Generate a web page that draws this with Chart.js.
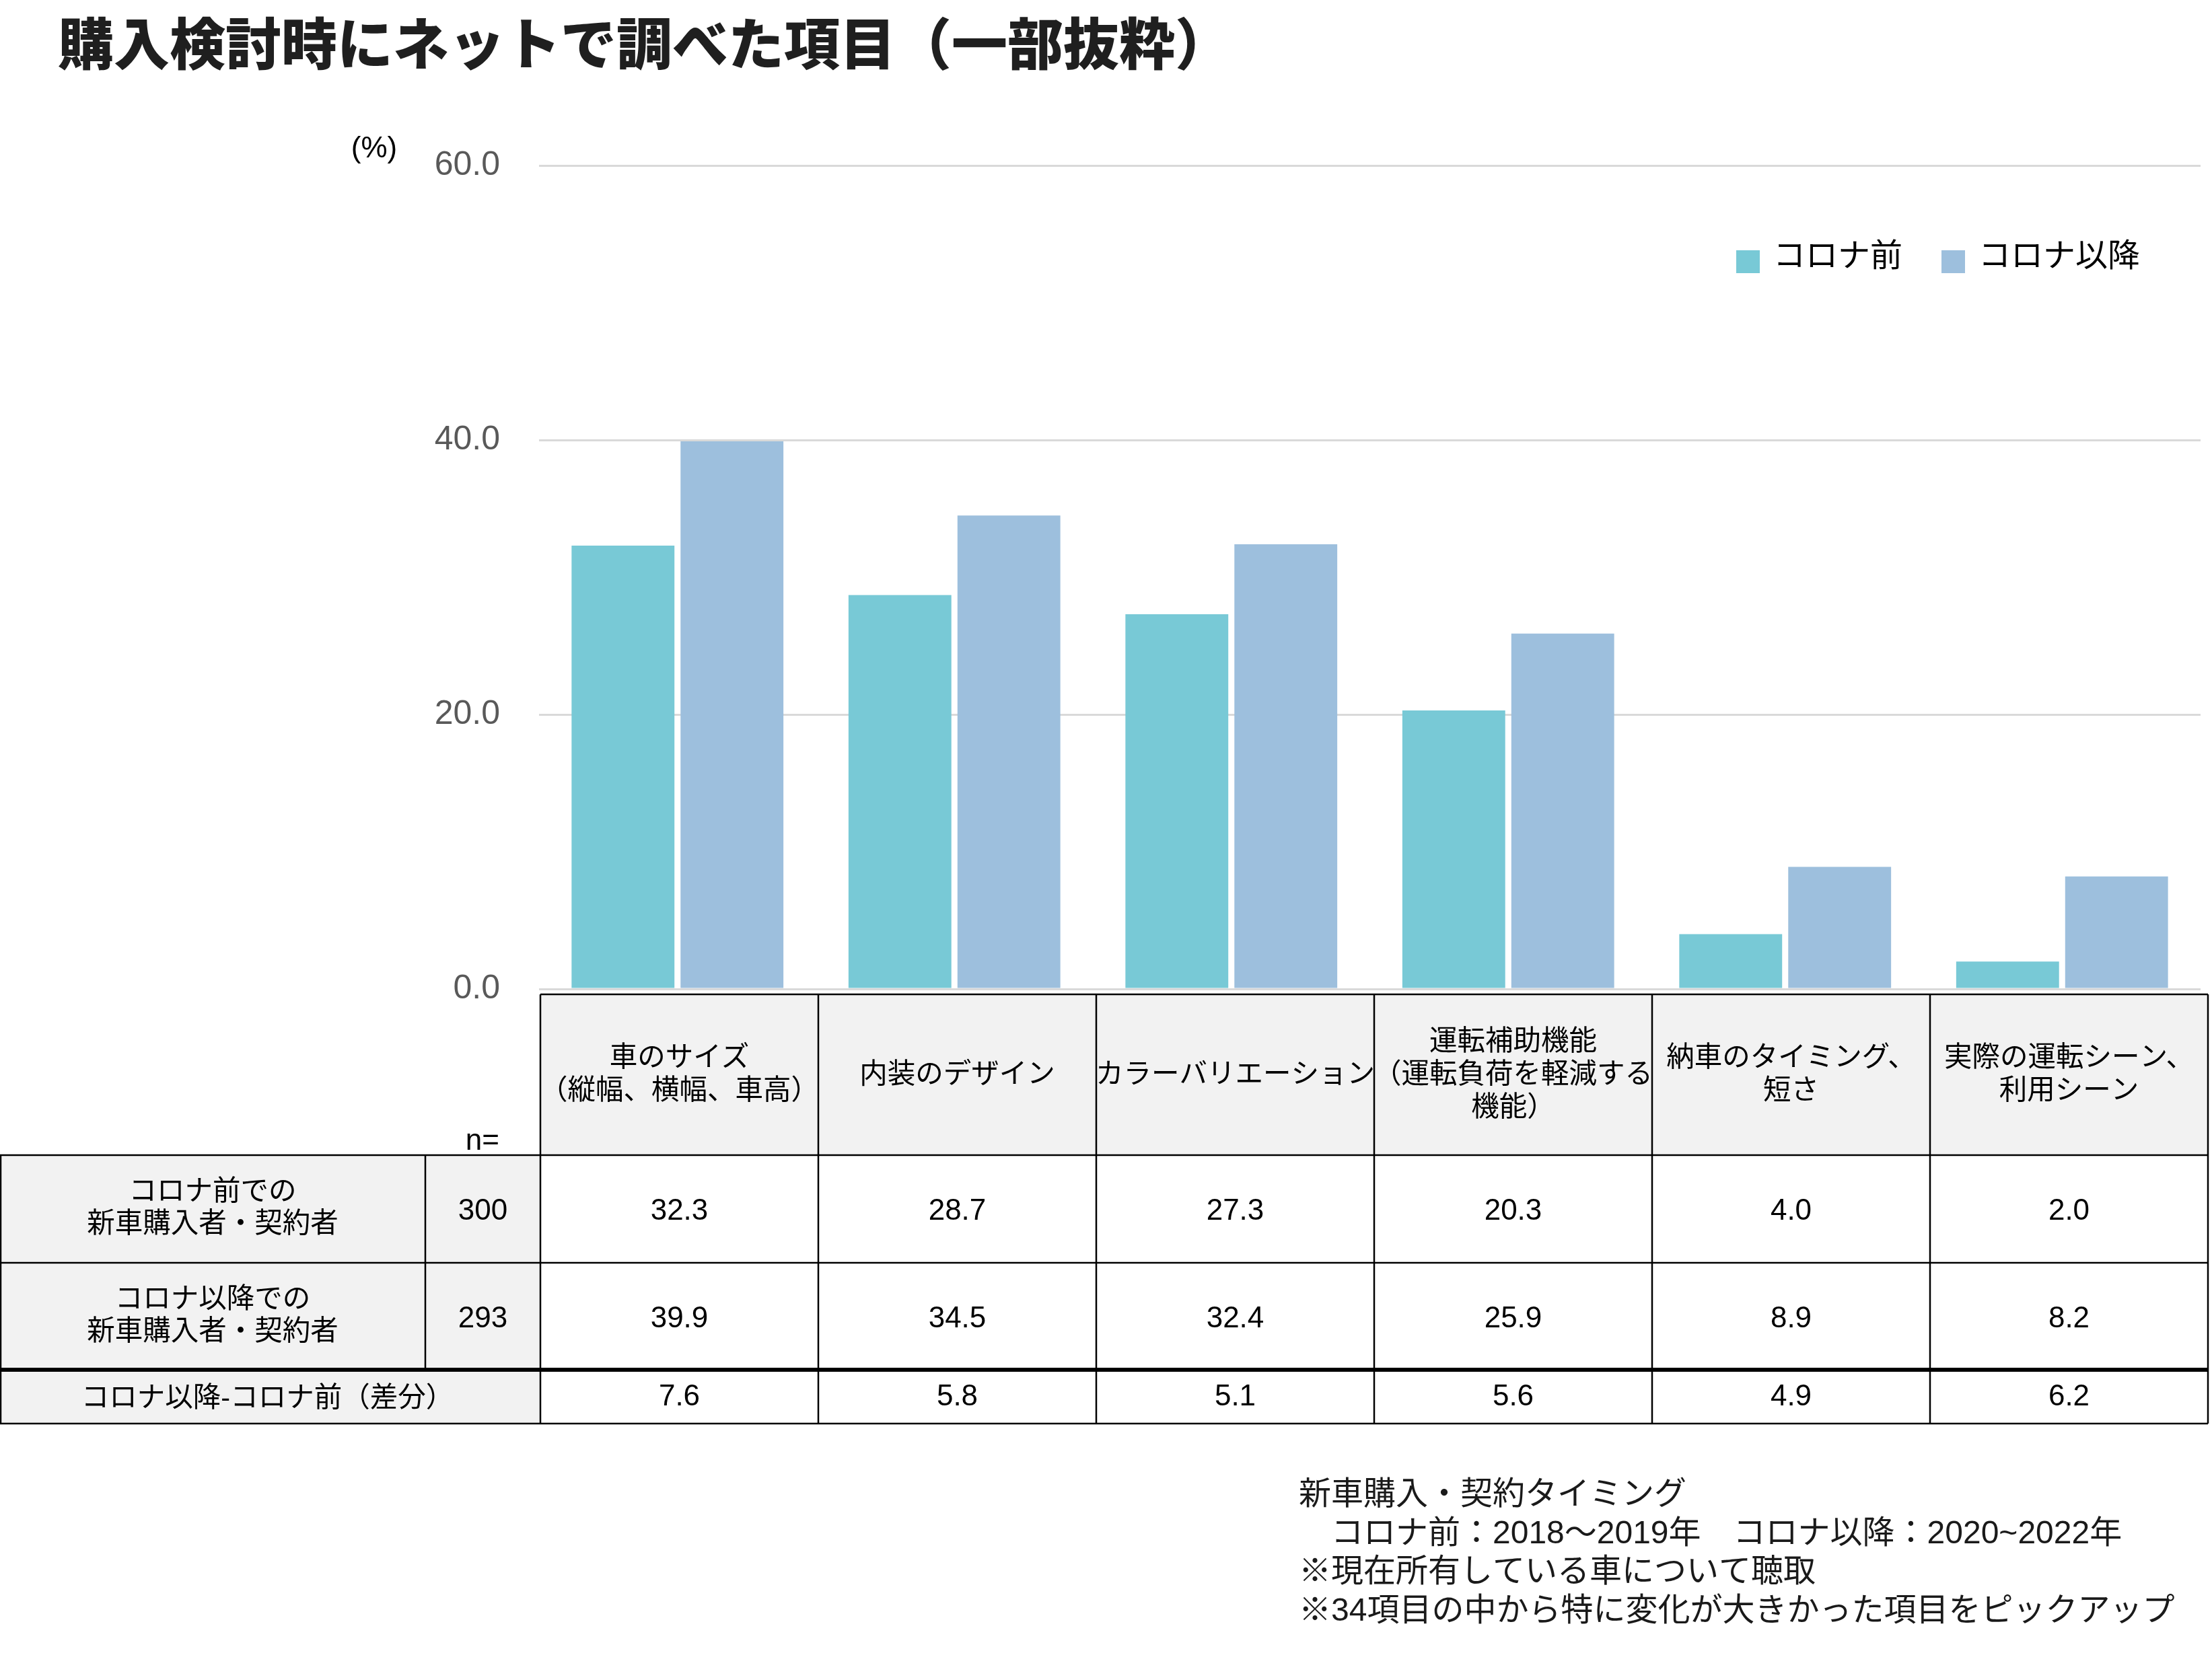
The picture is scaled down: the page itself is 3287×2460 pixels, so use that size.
<!DOCTYPE html>
<html>
<head>
<meta charset="utf-8">
<script src="https://cdn.jsdelivr.net/npm/chart.js@4.4.1/dist/chart.umd.min.js"></script>
<style>
html, body { margin: 0; background: #fff; }
canvas { display: block; }
</style>
</head>
<body>
<canvas id="myChart" width="3287" height="2460"></canvas>
<script>
// data
const categories = [
  ["車のサイズ", "（縦幅、横幅、車高）"],
  ["内装のデザイン"],
  ["カラーバリエーション"],
  ["運転補助機能", "（運転負荷を軽減する", "機能）"],
  ["納車のタイミング、", "短さ"],
  ["実際の運転シーン、", "利用シーン"]
];
const seriesNames = ["コロナ前", "コロナ以降"];
const preCovid = [32.3, 28.7, 27.3, 20.3, 4.0, 2.0];
const postCovid = [39.9, 34.5, 32.4, 25.9, 8.9, 8.2];
const diffValues = [7.6, 5.8, 5.1, 5.6, 4.9, 6.2];
const sampleSizes = [300, 293];
const rowLabels = [
  ["コロナ前での", "新車購入者・契約者"],
  ["コロナ以降での", "新車購入者・契約者"]
];
const diffLabel = "コロナ以降-コロナ前（差分）";
const yTicks = [0, 20, 40, 60];
const titleText = "購入検討時にネットで調べた項目（一部抜粋）";
const notes = [
  "新車購入・契約タイミング",
  "　コロナ前：2018～2019年　コロナ以降：2020~2022年",
  "※現在所有している車について聴取",
  "※34項目の中から特に変化が大きかった項目をピックアップ"
];

const colors = ["#78C9D6", "#9DBFDD"];
const FONT = '"Liberation Sans", "Noto Sans CJK JP", sans-serif';

function txt(ctx, s, x, y, font, color, align) {
  ctx.font = font;
  ctx.fillStyle = color;
  ctx.textAlign = align || "center";
  ctx.textBaseline = "middle";
  ctx.fillText(s, x, y);
}
function hline(ctx, x1, x2, y, w) {
  ctx.fillStyle = "#000";
  ctx.fillRect(x1, y - w / 2, x2 - x1, w);
}
function vline(ctx, x, y1, y2, w) {
  ctx.fillStyle = "#000";
  ctx.fillRect(x - w / 2, y1, w, y2 - y1);
}

// title, legend, table and notes
const extras = {
  id: "extras",
  beforeDraw(chart) {
    const ctx = chart.ctx;
    ctx.save();
    ctx.fillStyle = "#fff";
    ctx.fillRect(0, 0, chart.width, chart.height);
    ctx.restore();
  },
  afterDraw(chart) {
    const ctx = chart.ctx;
    const xs = chart.scales.x;
    const n = categories.length;
    // table columns sit just under the plot, a touch wider than the categories
    const tableLeft = xs.left + 2;
    const colW = (3281 - tableLeft) / n;
    const colL = [];
    for (let i = 0; i <= n; i++) colL.push(tableLeft + i * colW);
    ctx.save();

    // title
    txt(ctx, titleText, 86, 64, '900 83px "Noto Sans CJK JP"', "#1f1f1f", "left");
    // unit
    txt(ctx, "(%)", 556, 222, '44px ' + FONT, "#000");

    // legend
    const lx = [2580, 2885];
    chart.data.datasets.forEach(function (ds, i) {
      ctx.fillStyle = ds.backgroundColor;
      ctx.fillRect(lx[i], 372, 35, 34);
      txt(ctx, ds.label, lx[i] + 55, 383, '48px ' + FONT, "#000", "left");
    });

    // table geometry
    const yH = 1478, yR1 = 1717, yR2 = 1877, yR3 = 2036, yEnd = 2116;
    const xLab = 632, xN = colL[0], xR = colL[n];
    const bw = 2.5;
    const lab = '41.5px ' + FONT;
    const num = '44px ' + FONT;

    // fills
    ctx.fillStyle = "#F2F2F2";
    ctx.fillRect(xN, yH, xR - xN, yR1 - yH);
    ctx.fillRect(0, yR1, xN, yR3 - yR1);
    ctx.fillRect(0, yR3, xN, yEnd - yR3);

    // header texts
    const hc = (yH + yR1) / 2;
    categories.forEach(function (lines, i) {
      const cx = (colL[i] + colL[i + 1]) / 2;
      lines.forEach(function (l, k) {
        txt(ctx, l, cx, hc + 1 + (k - (lines.length - 1) / 2) * 49, lab, "#000");
      });
    });
    txt(ctx, "n=", 742, 1697, num, "#000", "right");

    // body rows
    const rows = [[yR1, yR2, preCovid], [yR2, yR3, postCovid]];
    rows.forEach(function (r, j) {
      const cy = (r[0] + r[1]) / 2;
      rowLabels[j].forEach(function (l, k) {
        txt(ctx, l, xLab / 2, cy + (k - 0.5) * 48, lab, "#000");
      });
      txt(ctx, String(sampleSizes[j]), (xLab + xN) / 2, cy + 4, num, "#000");
      r[2].forEach(function (v, i) {
        txt(ctx, v.toFixed(1), (colL[i] + colL[i + 1]) / 2, cy + 4, num, "#000");
      });
    });
    const dy = (yR3 + yEnd) / 2;
    txt(ctx, diffLabel, xN / 2 - 4, dy + 4, lab, "#000");
    diffValues.forEach(function (v, i) {
      txt(ctx, v.toFixed(1), (colL[i] + colL[i + 1]) / 2, dy + 1, num, "#000");
    });

    // borders
    hline(ctx, xN, xR, yH, bw);
    hline(ctx, 0, xR, yR1, bw);
    hline(ctx, 0, xR, yR2, bw);
    hline(ctx, 0, xR, yR3, 6);
    hline(ctx, 0, xR, yEnd, bw);
    vline(ctx, 1, yR1, yEnd, bw);
    vline(ctx, xLab, yR1, yR3, bw);
    for (let i = 0; i <= n; i++) vline(ctx, colL[i], yH, yEnd, bw);

    // notes
    notes.forEach(function (l, k) {
      txt(ctx, l, 1930, 2223 + k * 57.5, '48px ' + FONT, "#1a1a1a", "left");
    });
    ctx.restore();
  }
};

new Chart("myChart", {
  type: "bar",
  data: {
    labels: categories,
    datasets: [
      { label: seriesNames[0], data: preCovid, backgroundColor: colors[0] },
      { label: seriesNames[1], data: postCovid, backgroundColor: colors[1] }
    ]
  },
  options: {
    responsive: false,
    animation: false,
    devicePixelRatio: 1,
    layout: { padding: { left: 0, right: 17, top: 246, bottom: 990 } },
    datasets: { bar: { categoryPercentage: 0.787, barPercentage: 0.944 } },
    scales: {
      x: { display: false },
      y: {
        min: 0,
        max: 60,
        afterFit: function (s) { s.width = 801; },
        afterBuildTicks: function (s) { s.ticks = yTicks.map(function (v) { return { value: v }; }); },
        ticks: {
          padding: 58,
          color: "#595959",
          font: { size: 50, family: FONT },
          callback: function (v) { return v.toFixed(1); }
        },
        grid: { color: "#D9D9D9", lineWidth: 3, drawTicks: false },
        border: { display: false }
      }
    },
    plugins: {
      legend: { display: false },
      tooltip: { enabled: false }
    }
  },
  plugins: [extras]
});
</script>
</body>
</html>
